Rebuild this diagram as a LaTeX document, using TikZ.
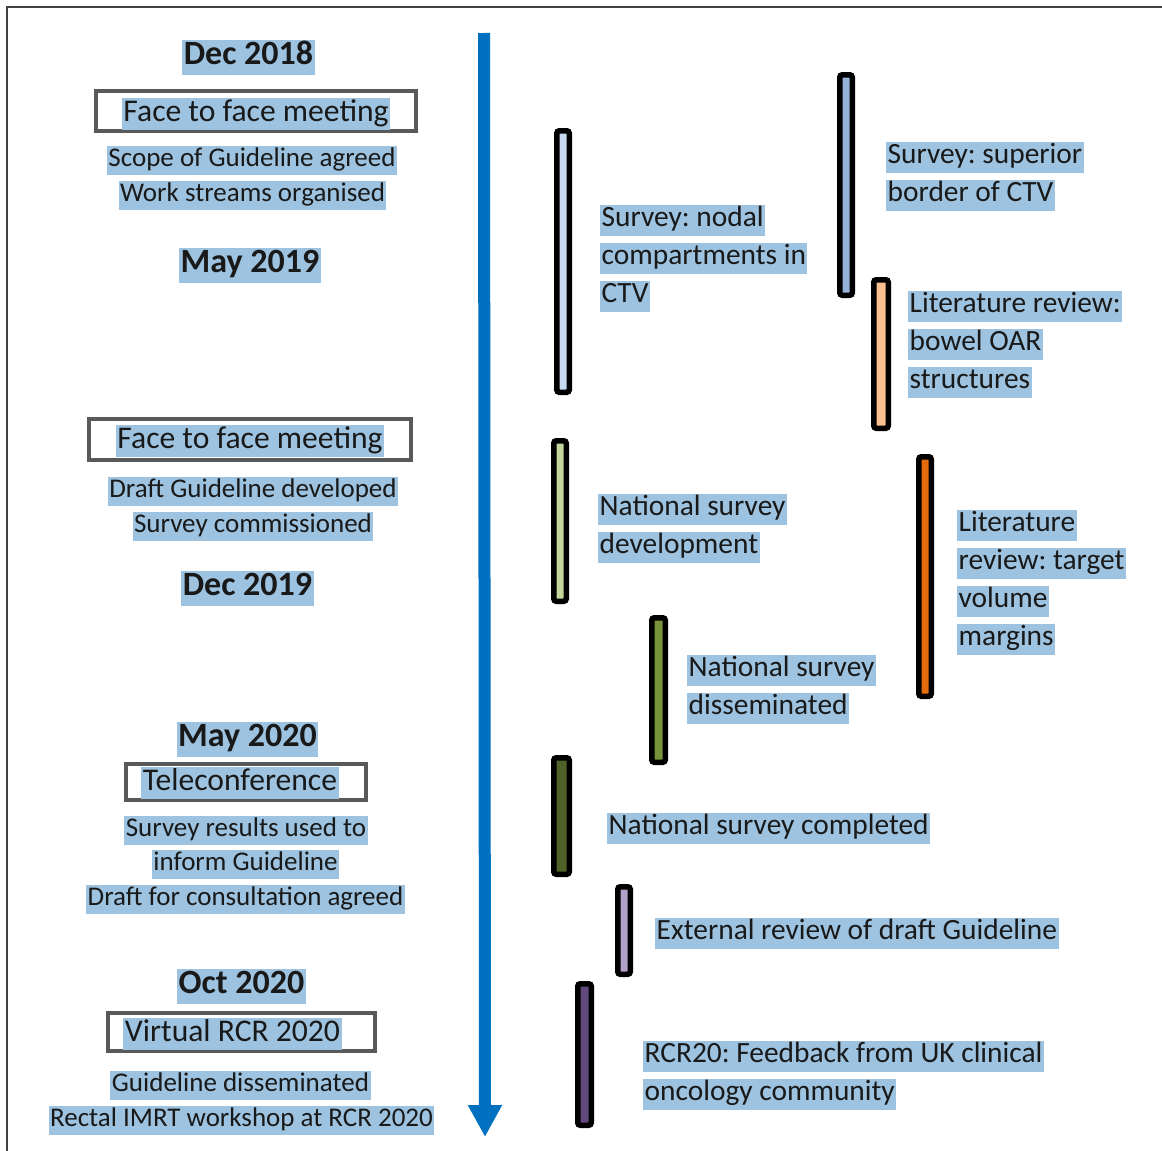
\documentclass[tikz,border=0pt]{standalone}
\usepackage{fontspec}
\setmainfont{Carlito}
\frenchspacing
\usetikzlibrary{arrows.meta}
\definecolor{hlc}{RGB}{157,195,224}
\definecolor{boxc}{RGB}{89,89,89}
\definecolor{arrc}{RGB}{0,112,192}
\definecolor{cA}{RGB}{198,217,241}
\definecolor{cB}{RGB}{149,179,215}
\definecolor{cC}{RGB}{250,192,144}
\definecolor{cD}{RGB}{195,214,155}
\definecolor{cE}{RGB}{228,108,10}
\definecolor{cF}{RGB}{119,147,60}
\definecolor{cG}{RGB}{79,98,40}
\definecolor{cH}{RGB}{179,162,199}
\definecolor{cI}{RGB}{96,74,123}
\tikzset{
  hl/.style={fill=hlc, inner xsep=1.5pt, inner ysep=0pt, text=black!90},
  datetxt/.style={hl, font=\bfseries\fontsize{34}{40}\selectfont, text height=25pt, text depth=10pt},
  boxtxt/.style={hl, font=\fontsize{31.6}{36}\selectfont, text height=23.5pt, text depth=9pt},
  smalltxt/.style={hl, font=\fontsize{27}{32}\selectfont, text height=20.5pt, text depth=8.5pt},
  rtxt/.style={hl, anchor=west, font=\fontsize{29.4}{36}\selectfont, text height=22pt, text depth=9pt},
  evbox/.style={draw=boxc, line width=4pt, fill=white, inner sep=0pt},
  bar/.style={draw=black, line width=5.5pt, rounded corners=2.5pt, inner sep=0pt, minimum width=12.5pt},
}
\begin{document}
\begin{tikzpicture}[x=1pt,y=-1pt]
\useasboundingbox (0,0) rectangle (1162,1151);
\fill[white] (0,0) rectangle (1162,1151);
% frame
\draw[line width=2pt, black!75] (7,1151) -- (7,7) -- (1162,7);

% timeline arrow
\coordinate (atop) at (484,33);
\coordinate (abot) at (485,1137);
\draw[arrc, line width=12pt, -{Triangle[length=32pt 0, width=32pt 0]}] (atop) -- (abot);

% left column
\node[datetxt] (d1) at (248.5,57) {Dec 2018};
\node[evbox, minimum width=320pt, minimum height=40pt] (bx1) at (256,111) {};
\node[boxtxt] (e1) at (256,114) {Face to face meeting};
\node[smalltxt] (s1a) at (252,160) {Scope of Guideline agreed};
\node[smalltxt] (s1b) at (252.5,195) {Work streams organised};
\node[datetxt] (d2) at (250,265) {May 2019};

\node[evbox, minimum width=322pt, minimum height=41pt] (bx2) at (250,439.5) {};
\node[boxtxt] (e2) at (250,441) {Face to face meeting};
\node[smalltxt] (s2a) at (253,491) {Draft Guideline developed};
\node[smalltxt] (s2b) at (253,526) {Survey commissioned};
\node[datetxt] (d3) at (247.5,588) {Dec 2019};

\node[datetxt] (d4) at (247.5,739) {May 2020};
\node[evbox, minimum width=240pt, minimum height=36pt] (bx3) at (246,782) {};
\node[boxtxt] (e3) at (240,783) {Teleconference};
\node[smalltxt] (s3a) at (246,830) {Survey results used to};
\node[smalltxt] (s3b) at (245.5,864) {inform Guideline};
\node[smalltxt] (s3c) at (245.5,899) {Draft for consultation agreed};

\node[datetxt] (d5) at (241.5,986) {Oct 2020};
\node[evbox, minimum width=267pt, minimum height=38pt] (bx4) at (241.5,1032) {};
\node[boxtxt] (e4) at (232.5,1034) {Virtual RCR 2020};
\node[smalltxt] (s4a) at (240.5,1085) {Guideline disseminated};
\node[smalltxt] (s4b) at (241.5,1120) {Rectal IMRT workshop at RCR 2020};

% bars
\node[bar, fill=cA, minimum height=261.5pt] (b1) at (563,261.5) {};
\node[bar, fill=cB, minimum height=220.5pt] (b2) at (846,185) {};
\node[bar, fill=cC, minimum height=148.5pt, minimum width=14.5pt] (b3) at (881,354) {};
\node[bar, fill=cD, minimum height=160.5pt] (b4) at (560,521) {};
\node[bar, fill=cE, minimum height=239.5pt] (b5) at (925,576.5) {};
\node[bar, fill=cF, minimum height=144.5pt, minimum width=13.5pt] (b6) at (658.5,690) {};
\node[bar, fill=cG, minimum height=116.5pt, minimum width=15.5pt] (b7) at (561.5,816) {};
\node[bar, fill=cH, minimum height=87.5pt] (b8) at (624,930.5) {};
\node[bar, fill=cI, minimum height=141.5pt, minimum width=13.5pt] (b9) at (584.5,1054.5) {};

% right labels
\node[rtxt] (r1a) at (600,220) {Survey: nodal};
\node[rtxt] (r1b) at (600,258) {compartments in};
\node[rtxt] (r1c) at (600,296) {CTV};

\node[rtxt] (r2a) at (886,157) {Survey: superior};
\node[rtxt] (r2b) at (886,195) {border of CTV};

\node[rtxt] (r3a) at (908,306) {Literature review:};
\node[rtxt] (r3b) at (908,344) {bowel OAR};
\node[rtxt] (r3c) at (908,382) {structures};

\node[rtxt] (r4a) at (598,509) {National survey};
\node[rtxt] (r4b) at (598,547) {development};

\node[rtxt] (r5a) at (957,525) {Literature};
\node[rtxt] (r5b) at (957,563) {review: target};
\node[rtxt] (r5c) at (957,601) {volume};
\node[rtxt] (r5d) at (957,639) {margins};

\node[rtxt] (r6a) at (687,670) {National survey};
\node[rtxt] (r6b) at (687,708) {disseminated};

\node[rtxt] (r7) at (607,828) {National survey completed};

\node[rtxt] (r8) at (655,933) {External review of draft Guideline};

\node[rtxt] (r9a) at (643,1056) {RCR20: Feedback from UK clinical};
\node[rtxt] (r9b) at (643,1094) {oncology community};
\end{tikzpicture}
\end{document}
